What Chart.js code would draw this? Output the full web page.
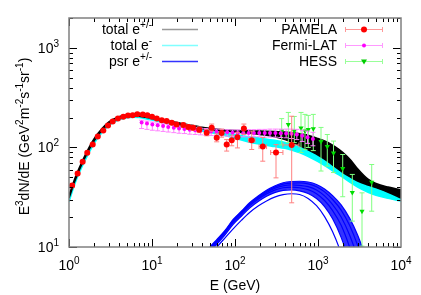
<!DOCTYPE html>
<html><head><meta charset="utf-8">
<script src="https://cdn.jsdelivr.net/npm/chart.js@4.4.1/dist/chart.umd.min.js"></script>
<style>html,body{margin:0;padding:0;background:#fff;overflow:hidden}#wrap{width:421px;height:295px}</style>
</head><body><div id="wrap"><canvas id="c" width="421" height="295"></canvas></div>
<script>
// ---- model curves: total e+/- (black band), total e- (cyan band) ----
const E_tot = [1,1.2,1.5,2,2.5,3,4,5,6,7,8,10,13,16,20,25,30,40,50,70,100,150,200,300,400,500,700,1000,1300,1600,2000,2500,3000,4000,5000,7000,10000];
const totalUpper = [33,51,78,122,155,180,204,212,214,213,209,201,192,185,178,172,167,160,156,151,148,147,146,145,143,141,135,123,113,102,89,74,61,48,43.5,40,37.5];
const totalLower = [31,48,74,116,149,173,197,205,207,206,202,195,186,179,172,166,161,155,151,147,143,139,135,128,120,112,98,84,73,64,56,50,46,42,39.5,35.5,31];
const elecUpper  = [30,47,72,113,145,170,194,203,205,204,200,193,184,176,169,163,158,150,146,140,135,128,124,118,112,106,96,84,74,66,58,51,46,42,40,38,37];
const elecLower  = [28.5,45,69,109,141,166,190,199,201,200,196,189,180,172,165,159,154,146,141,134,124,113,108,102,98,93,84,72,63,56,50,44,40,35.5,33,30.8,28.8];

// ---- pulsar e+/- curves (blue) ----
const E_psr = [45,50,60,75,95,120,150,190,240,300,380,480,600,760,960,1200,1500,1900,2400,3000,3600];
const psrA = [8.8,10,11.8,14.5,18.9,23,27.8,32.5,37.2,41,44.2,45.5,45.8,45,42.5,38.3,32.8,26.5,19.5,13.2,8.8];
const psrB = [8.5,9.7,11.5,14.2,18.5,22.5,27.2,31.8,36.3,40,42.8,43.9,44,43,40.3,35.8,30,23.5,16.5,10.4,6.5];
const psrC = [8.3,9.5,11.3,14,18.2,22.1,26.7,31.1,35.4,38.8,41.2,42,41.7,40.4,37.4,32.6,26.7,20,13.2,7.8,4.5];
const psrD = [8,9.2,11,13.7,17.7,21.5,26,30.2,34.2,37.3,39.4,40,39.4,37.7,34.3,29.3,23.2,16.5,10,5.5,3];
const psrE = [7.7,8.9,10.6,13.1,16.9,20.5,24.6,28.6,32.3,35.2,37,37.5,36.6,34.5,30.7,25.5,19.2,12.5,7,3.5,2];
const psrF = [6.3,7.4,9.8,12.2,15.2,18.6,22.2,25.8,29,31.7,33.6,34.3,33.7,30.8,26,20.2,14.2,8.6,4.2,2,1];

// ---- PAMELA ----
const pamE  = [1.09,1.27,1.46,1.66,1.93,2.22,2.59,2.95,3.36,3.89,4.51,5.14,5.85,6.65,7.73,8.78,10,11.4,13.1,15.0,17.3,19.8,23.8,27.4,31.2,37,45.6,52.4,60.2,69,79.4,91.3,107,128,159,216,312,482];
const pamF  = [41.5,54.8,71.8,88.5,107,129,148,166,182,196,204,210,211,216,215,211,204,196,188,184,177,170,168,161,158,151,141,158,125,140,107,118,127,155,118,102,89,106];
const pamLo = [40,53,69.5,86,104,126,145,162,178,191,199,205,206,210,209,205,198,190,182,177,170,163,160,153,149,141,131,146,114,127,92,104,99,135,95.5,72.8,49.5,27.8];
const pamHi = [43,56.6,74,91,110,132,151,170,186,201,209,215,216,222,221,217,210,202,194,191,184,177,176,169,167,161,152,172,137,153,120,133,142,172,146,126,107,206];
const pamELo = [null,null,null,null,null,null,null,null,null,null,null,null,null,null,null,null,null,null,null,null,null,null,null,null,null,null,null,null,null,null,null,null,null,null,145,195,269,378];
const pamEHi = [null,null,null,null,null,null,null,null,null,null,null,null,null,null,null,null,null,null,null,null,null,null,null,null,null,null,null,null,null,null,null,null,null,null,174,240,378,590];

// ---- Fermi-LAT ----
const fermiE  = [7.5,8.7,10.1,11.7,13.6,15.7,18.3,21.2,24.6,28.5,33.1,38.4,44.5,51.6,59.9,69.5,80.6,93.5,108,126,146,169,196,228,264,307,356,413,479,556,645,748,868];
const fermiF  = [178,174,170,167,164,161,158,155,153,151,149,147,146,145,144,143,142,141,140,140,140,140,140,140,140,140,139,138,137,135,131,127,122];
const fermiLo = [155,152,149,147,145,143,141,139,138,136,135,134,133,132,132,131,130,129,128,128,128,128,128,127,127,127,126,125,123,120,115,110,104];
const fermiHi = [188,184,180,176,173,170,167,164,162,160,158,156,155,154,153,152,151,150,150,150,151,151,152,152,153,153,153,153,153,152,149,146,142];

// ---- HESS ----
const hessE  = [365,439,518,624,697,764,878,1087,1294,1538,1985,2590,3390,4437];
const hessF  = [146,170,146,157,146,152,154,115,102,88,61.5,35.3,22.9,44.8];
const hessLo = [106,112,112,89,95,100,93,58,65,56,32,18.2,10.2,22.9];
const hessHi = [195,225,205,225,215,210,215,159,135,116,85,53.6,35,67.4];

// ---- axes ----
const xTickVals = [1,10,100,1000,10000];
const xTickExp  = ['0','1','2','3','4'];
const yTickVals = [10,100,1000];
const yTickExp  = ['1','2','3'];
const xMin = 1, xMax = 10000, yMin = 10, yMax = 2000;

const FONT = '"Liberation Sans", Arial, sans-serif';
function pts(xs, ys){ return xs.map((x,i)=>({x:x, y:ys[i]})); }

function richWidth(ctx, parts){
  let w=0;
  for(const p of parts){ ctx.font=(p.s?'10px ':'14px ')+FONT; w+=ctx.measureText(p.t).width; }
  return w;
}
function drawRich(ctx, parts, x, y, align){
  const w = richWidth(ctx, parts);
  let cx = align==='right' ? x-w : (align==='center' ? x-w/2 : x);
  ctx.textAlign='left'; ctx.textBaseline='alphabetic';
  for(const p of parts){
    ctx.font=(p.s?'10px ':'14px ')+FONT;
    ctx.fillText(p.t, cx, p.s ? y-6 : y);
    cx += ctx.measureText(p.t).width;
  }
}

const errColors = {0:'#ff8080', 1:'#ff80ff', 2:'#80ff80'};
const errData = {
  0:{E:pamE, lo:pamLo, hi:pamHi, elo:pamELo, ehi:pamEHi},
  1:{E:fermiE, lo:fermiLo, hi:fermiHi},
  2:{E:hessE, lo:hessLo, hi:hessHi}
};

const errorBarPlugin = {
  id:'errbars',
  beforeDatasetDraw(chart, args){
    const d = errData[args.index]; if(!d) return;
    const ctx=chart.ctx, xs=chart.scales.x, ys=chart.scales.y, a=chart.chartArea;
    ctx.save();
    ctx.beginPath(); ctx.rect(a.left,a.top,a.right-a.left,a.bottom-a.top); ctx.clip();
    ctx.strokeStyle=errColors[args.index]; ctx.lineWidth=1;
    ctx.beginPath();
    for(let i=0;i<d.E.length;i++){
      const px=xs.getPixelForValue(d.E[i]);
      const y1=ys.getPixelForValue(d.lo[i]), y2=ys.getPixelForValue(d.hi[i]);
      ctx.moveTo(px,y1); ctx.lineTo(px,y2);
      ctx.moveTo(px-2.5,y1); ctx.lineTo(px+2.5,y1);
      ctx.moveTo(px-2.5,y2); ctx.lineTo(px+2.5,y2);
      if(d.elo && d.elo[i]!=null){
        const py=ys.getPixelForValue(pamF[i]);
        const x1=xs.getPixelForValue(d.elo[i]), x2=xs.getPixelForValue(d.ehi[i]);
        ctx.moveTo(x1,py); ctx.lineTo(x2,py);
        ctx.moveTo(x1,py-2.5); ctx.lineTo(x1,py+2.5);
        ctx.moveTo(x2,py-2.5); ctx.lineTo(x2,py+2.5);
      }
    }
    ctx.stroke();
    ctx.restore();
  }
};

const frameTicksPlugin = {
  id:'frame',
  afterDraw(chart){
    const ctx=chart.ctx, xs=chart.scales.x, ys=chart.scales.y, a=chart.chartArea;
    ctx.save();
    ctx.strokeStyle='#000'; ctx.lineWidth=1;
    ctx.beginPath();
    for(let k=0;k<4;k++){
      for(let m=1;m<=9;m++){
        const v=Math.pow(10,k)*m; const px=Math.round(xs.getPixelForValue(v))+0.5;
        const L = m===1?8:4;
        ctx.moveTo(px,a.bottom); ctx.lineTo(px,a.bottom-L);
        ctx.moveTo(px,a.top); ctx.lineTo(px,a.top+L);
      }
    }
    for(let k=1;k<=3;k++){
      for(let m=1;m<=9;m++){
        const v=Math.pow(10,k)*m; if(v>yMax) break;
        const py=Math.round(ys.getPixelForValue(v))+0.5;
        const L = m===1?8:4;
        ctx.moveTo(a.left,py); ctx.lineTo(a.left+L,py);
        ctx.moveTo(a.right,py); ctx.lineTo(a.right-L,py);
      }
    }
    ctx.stroke();
    ctx.strokeStyle='#808080'; ctx.lineWidth=1.5;
    ctx.strokeRect(a.left,a.top,a.right-a.left,a.bottom-a.top);
    ctx.fillStyle='#000';
    xTickVals.forEach((v,i)=>{
      const px=xs.getPixelForValue(v);
      drawRich(ctx,[{t:'10'},{t:xTickExp[i],s:true}],px,a.bottom+23,'center');
    });
    yTickVals.forEach((v,i)=>{
      const py=ys.getPixelForValue(v);
      drawRich(ctx,[{t:'10'},{t:yTickExp[i],s:true}],a.left-10,py+5,'right');
    });
    drawRich(ctx,[{t:'E (GeV)'}],(a.left+a.right)/2,290,'center');
    ctx.save();
    ctx.translate(29,(a.top+a.bottom)/2+4);
    ctx.rotate(-Math.PI/2);
    drawRich(ctx,[{t:'E'},{t:'3',s:true},{t:'dN/dE (GeV'},{t:'2',s:true},{t:'m'},{t:'-2',s:true},{t:'s'},{t:'-1',s:true},{t:'sr'},{t:'-1',s:true},{t:')'}],0,0,'center');
    ctx.restore();
    const rows=[29,45,61];
    drawRich(ctx,[{t:'total e'},{t:'+/-',s:true}],152,rows[0]+5,'right');
    drawRich(ctx,[{t:'total e'},{t:'-',s:true}],152,rows[1]+5,'right');
    drawRich(ctx,[{t:'psr e'},{t:'+/-',s:true}],152,rows[2]+5,'right');
    const lc=['#999999','#80ffff','#3333ff'];
    lc.forEach((c,i)=>{ ctx.strokeStyle=c; ctx.lineWidth=1.5; ctx.beginPath(); ctx.moveTo(162,rows[i]+0.5); ctx.lineTo(198,rows[i]+0.5); ctx.stroke(); });
    drawRich(ctx,[{t:'PAMELA'}],337,rows[0]+5,'right');
    drawRich(ctx,[{t:'Fermi-LAT'}],337,rows[1]+5,'right');
    drawRich(ctx,[{t:'HESS'}],337,rows[2]+5,'right');
    const ec=['#ff9999','#ff99ff','#99ff99'], mc=['#ff0000','#ff00ff','#00cc00'];
    ec.forEach((c,i)=>{
      const y=rows[i]+0.5;
      ctx.strokeStyle=c; ctx.lineWidth=1; ctx.beginPath();
      ctx.moveTo(345,y); ctx.lineTo(383,y);
      ctx.moveTo(345.5,y-2.5); ctx.lineTo(345.5,y+2.5);
      ctx.moveTo(382.5,y-2.5); ctx.lineTo(382.5,y+2.5);
      ctx.stroke();
      ctx.fillStyle=mc[i];
      ctx.beginPath();
      if(i===0) ctx.arc(364,y,3,0,2*Math.PI);
      else if(i===1) ctx.arc(364,y,2,0,2*Math.PI);
      else { ctx.moveTo(361,y-2); ctx.lineTo(367,y-2); ctx.lineTo(364,y+3); ctx.closePath(); }
      ctx.fill();
    });
    ctx.restore();
  }
};

const psrSets = [psrA,psrB,psrC,psrD,psrE,psrF];
const datasets = [
  {label:'PAMELA', data:pts(pamE,pamF), showLine:false, pointRadius:3, pointBackgroundColor:'#ff0000', pointBorderWidth:0, order:1},
  {label:'Fermi-LAT', data:pts(fermiE,fermiF), showLine:false, pointRadius:2, pointBackgroundColor:'#ff00ff', pointBorderWidth:0, order:2},
  {label:'HESS', data:pts(hessE,hessF), showLine:false, pointStyle:'triangle', rotation:180, pointRadius:3, pointBackgroundColor:'#00dd00', pointBorderWidth:0, order:3},
  {label:'totU', data:pts(E_tot,totalUpper), borderColor:'#000', borderWidth:1.5, pointRadius:0, fill:false, cubicInterpolationMode:'monotone', order:4},
  {label:'totL', data:pts(E_tot,totalLower), borderColor:'#000', borderWidth:1.5, pointRadius:0, fill:{target:3}, backgroundColor:'#000', cubicInterpolationMode:'monotone', order:5},
  {label:'eU', data:pts(E_tot,elecUpper), borderColor:'#00ffff', borderWidth:1.5, pointRadius:0, fill:false, cubicInterpolationMode:'monotone', order:6},
  {label:'eL', data:pts(E_tot,elecLower), borderColor:'#00ffff', borderWidth:1.5, pointRadius:0, fill:{target:5}, backgroundColor:'#00ffff', cubicInterpolationMode:'monotone', order:7}
];
psrSets.forEach((s,i)=>{
  const ds = {label:'psr'+i, data:pts(E_psr,s), borderColor:'#0000ff', borderWidth:1.2, pointRadius:0, fill:false, cubicInterpolationMode:'monotone', order:8+i};
  if(i===psrSets.length-2){ ds.fill={target:7}; ds.backgroundColor='rgba(0,0,255,0.8)'; }
  datasets.push(ds);
});

new Chart(document.getElementById('c'), {
  type:'line',
  data:{datasets:datasets},
  options:{
    responsive:false, animation:false, events:[],
    layout:{padding:{left:69,right:20,top:18,bottom:48}},
    plugins:{legend:{display:false}, tooltip:{enabled:false}},
    scales:{
      x:{type:'logarithmic', min:xMin, max:xMax, display:false},
      y:{type:'logarithmic', min:yMin, max:yMax, display:false}
    }
  },
  plugins:[errorBarPlugin, frameTicksPlugin]
});
</script></body></html>
